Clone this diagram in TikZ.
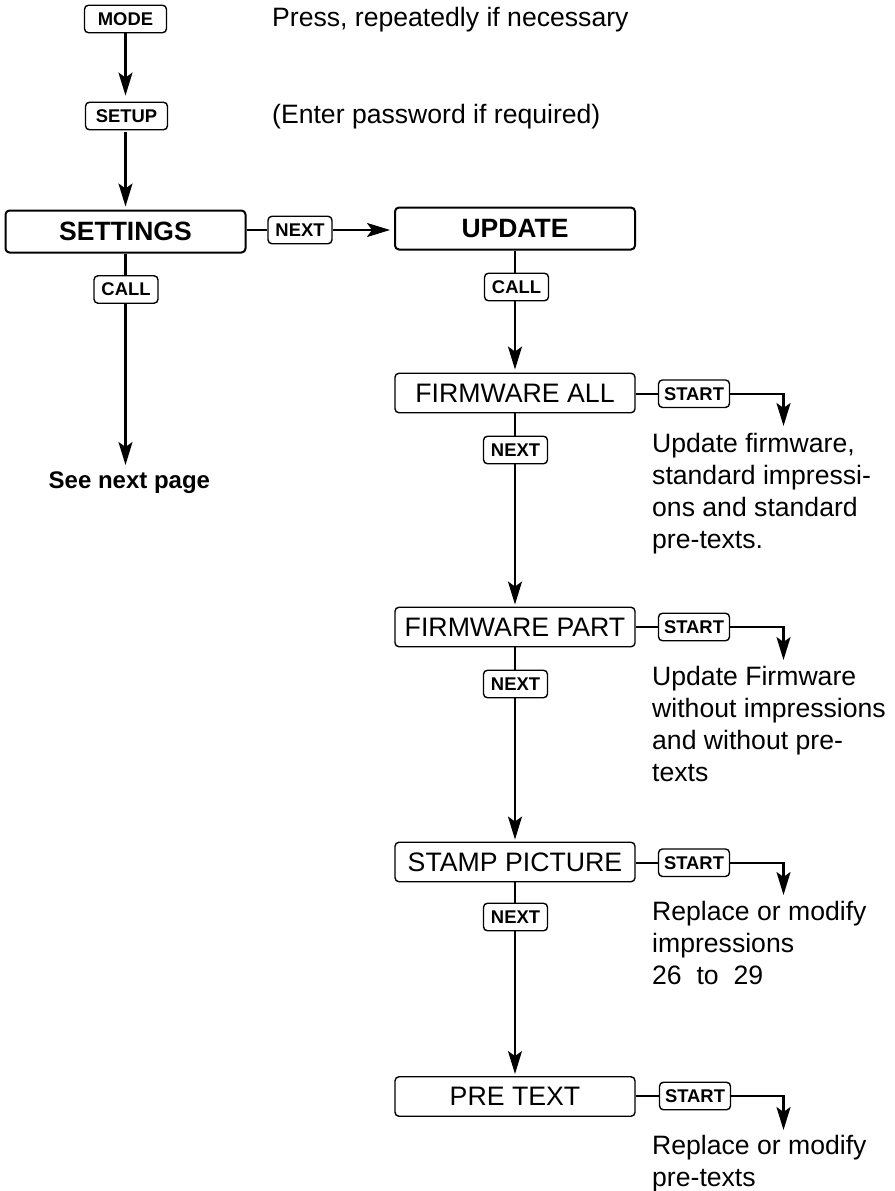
\documentclass[tikz,border=0pt]{standalone}
\usepackage{fontspec}
\setmainfont{Liberation Sans}
\usetikzlibrary{arrows.meta}
\tikzset{
 x=1pt,y=-1pt,
 key/.style={draw,line width=1.4pt,rounded corners=4pt,minimum height=27.5pt,inner sep=0pt,font=\fontsize{18.4}{20}\selectfont\bfseries,fill=white,anchor=center},
 menu/.style={draw,line width=2pt,rounded corners=4pt,minimum width=240pt,minimum height=42pt,inner sep=0pt,font=\fontsize{26.5}{28}\selectfont\bfseries},
 sub/.style={draw,line width=1.4pt,rounded corners=4pt,minimum width=240pt,minimum height=39.5pt,inner sep=0pt,font=\fontsize{26.7}{28}\selectfont},
 note/.style={anchor=base west,inner sep=0pt,font=\fontsize{26.6}{32}\selectfont},
 plain/.style={line width=2.1pt},
 arr/.style={line width=2.1pt,-{Stealth[length=23pt,width=14pt,inset=5pt]}},
}
\begin{document}
\begin{tikzpicture}
\useasboundingbox (0,0) rectangle (894,1191);
\node[key,minimum width=82pt] (mode) at (125.5,19) {MODE};
\node[key,minimum width=82pt] (setup) at (126.5,116) {SETUP};
\node[menu] (settings) at (125.5,231.5) {SETTINGS};
\node[key,minimum width=64pt] (next0) at (300,230) {NEXT};
\node[menu] (update) at (515,228.5) {UPDATE};
\node[key,minimum width=64pt] (call1) at (126,289.5) {CALL};
\node[key,minimum width=64pt] (call2) at (516.5,287) {CALL};
\node[inner sep=0pt,anchor=base west,font=\fontsize{24}{26}\selectfont\bfseries] (seenext) at (48.5,488) {See next page};
\coordinate (seetop) at (125.5,465);
\node[sub] (fa) at (515,393) {FIRMWARE ALL};
\node[key,minimum width=71pt] (s1) at (694,393.7) {START};
\node[key,minimum width=64pt] (n1) at (515.5,450) {NEXT};
\node[sub] (fp) at (515,627) {FIRMWARE PART};
\node[key,minimum width=71pt] (s2) at (694,627) {START};
\node[key,minimum width=64pt] (n2) at (515.5,684) {NEXT};
\node[sub] (sp) at (515,862) {STAMP PICTURE};
\node[key,minimum width=71pt] (s3) at (694,862.7) {START};
\node[key,minimum width=64pt] (n3) at (515.5,917) {NEXT};
\node[sub] (pt) at (515,1096.5) {PRE TEXT};
\node[key,minimum width=71pt] (s4) at (695,1096) {START};
\node[note] (t1) at (272,27) {Press, repeatedly if necessary};
\node[note] (t2) at (272,123) {(Enter password if required)};
\node[note] (a1) at (652,452) {Update firmware,};
\node[note] (a2) at (652,484) {standard impressi-};
\node[note] (a3) at (652,516) {ons and standard};
\node[note] (a4) at (652,548) {pre-texts.};
\node[note] (b1) at (652,685) {Update Firmware};
\node[note] (b2) at (652,717) {without impressions};
\node[note] (b3) at (652,749) {and without pre-};
\node[note] (b4) at (652,781) {texts};
\node[note] (c1) at (652,920) {Replace or modify};
\node[note] (c2) at (652,952) {impressions};
\node[note] (c3) at (652,984) {26~~to~~29};
\node[note] (d1) at (652,1154) {Replace or modify};
\node[note] (d2) at (652,1186) {pre-texts};
\coordinate (e1) at (783.5,426);
\coordinate (e2) at (783.5,660);
\coordinate (e3) at (783.5,895);
\coordinate (e4) at (783.5,1130);
\draw[arr,shorten >=6pt] (mode) -- (setup.north -| mode);
\draw[arr,shorten >=3pt,shorten <=2pt] (setup.south -| mode) -- (settings.north -| mode);
\draw[plain] (settings.east |- next0) -- (next0);
\draw[arr,shorten >=4pt] (next0) -- (update.west |- next0);
\draw[plain] (settings.south -| mode) -- (call1.north -| mode);
\draw[arr] (call1.south -| mode) -- (seetop);
\draw[plain] (update.south) -- (call2.north -| update);
\draw[arr,shorten >=3pt] (call2.south -| update) -- (fa.north);
\draw[plain] (fa.south) -- (n1.north -| fa);
\draw[arr,shorten >=2pt] (n1.south -| fa) -- (fp.north);
\draw[plain] (fp.south) -- (n2.north -| fp);
\draw[arr,shorten >=2pt] (n2.south -| fp) -- (sp.north);
\draw[plain] (sp.south) -- (n3.north -| sp);
\draw[arr,shorten >=2pt] (n3.south -| sp) -- (pt.north);
\draw[plain] (fa.east |- s1) -- (s1);
\draw[plain] (fp.east |- s2) -- (s2);
\draw[plain] (sp.east |- s3) -- (s3);
\draw[plain] (pt.east |- s4) -- (s4);
\draw[arr] (s1) -| (e1);
\draw[arr] (s2) -| (e2);
\draw[arr] (s3) -| (e3);
\draw[arr] (s4) -| (e4);
\end{tikzpicture}
\end{document}
